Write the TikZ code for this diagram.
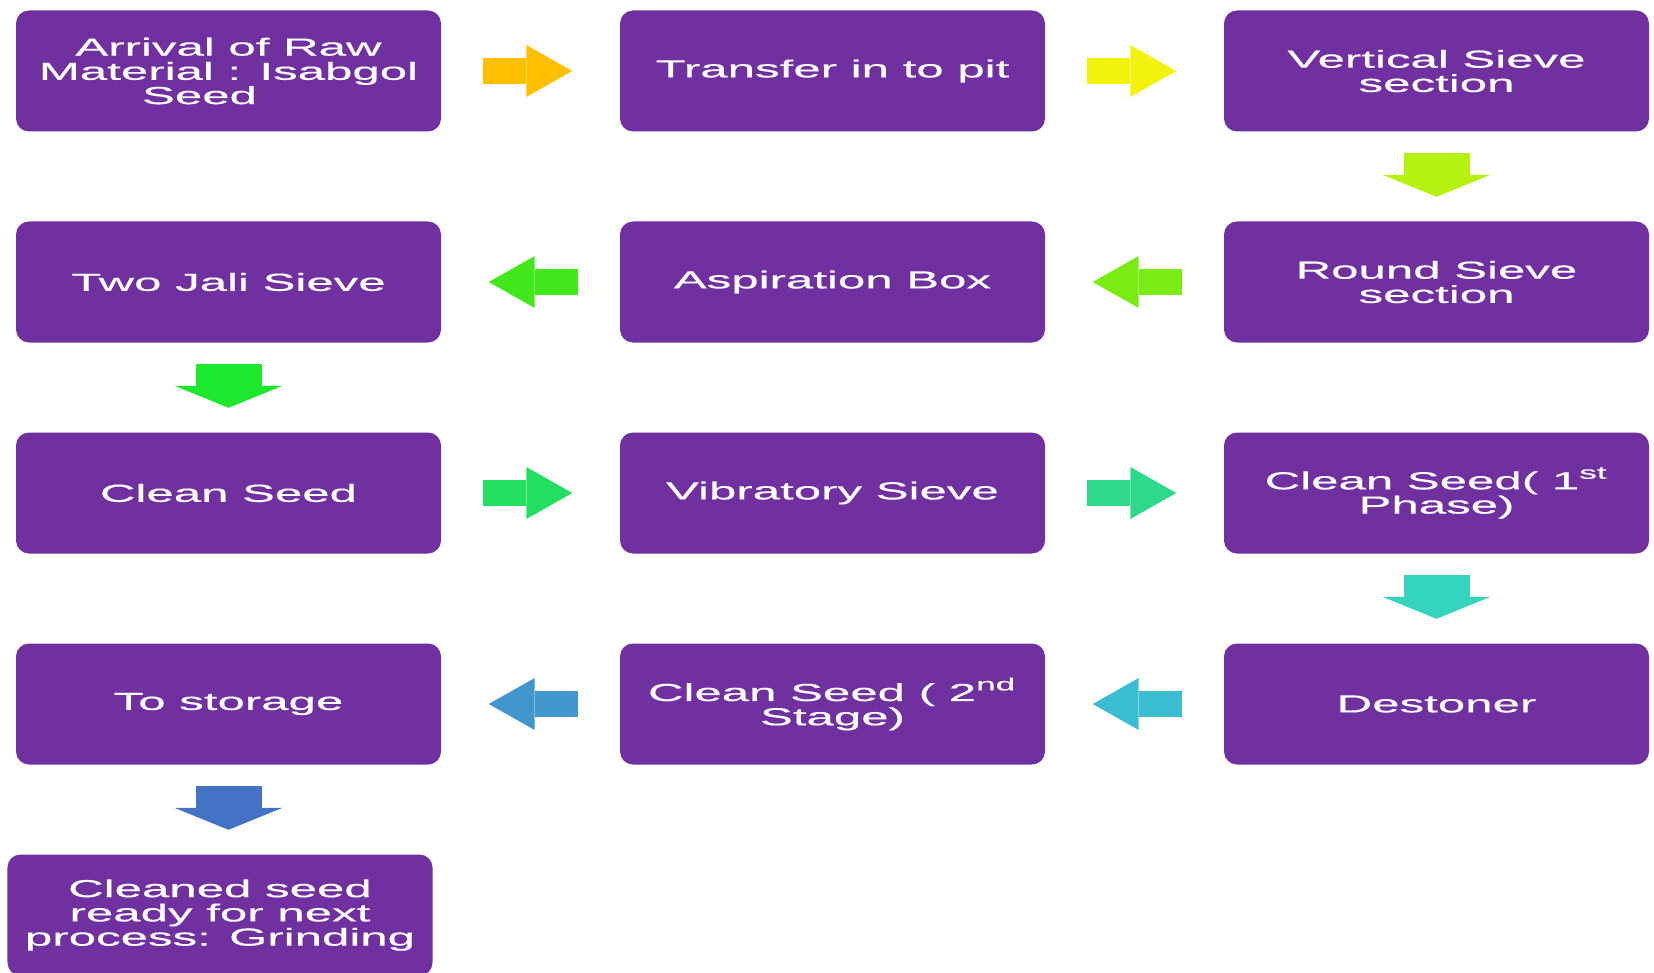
\documentclass[tikz,border=0pt]{standalone}
\usepackage{fontspec}
\newfontfamily\boxfont{Liberation Sans}[FakeStretch=2.0,FakeBold=0.4]
\usepackage{xcolor}
\definecolor{vizBox}{HTML}{7030A0}
\definecolor{flowA}{HTML}{FFC000}
\definecolor{flowB}{HTML}{F2F20C}
\definecolor{flowC}{HTML}{B5F20F}
\definecolor{flowD}{HTML}{7AEC14}
\definecolor{flowE}{HTML}{42E81C}
\definecolor{flowF}{HTML}{1EE82E}
\definecolor{flowG}{HTML}{22DF62}
\definecolor{flowH}{HTML}{2ED98A}
\definecolor{flowI}{HTML}{35D4BE}
\definecolor{flowJ}{HTML}{3ABDD0}
\definecolor{flowK}{HTML}{4196CC}
\definecolor{flowL}{HTML}{4472C4}
\usetikzlibrary{arrows.meta}
\tikzset{
  stepbox/.style={fill=vizBox, rounded corners=0.13cm, minimum width=4.25cm,
    minimum height=1.21cm, inner sep=0pt, text=white, align=center,
    font=\boxfont\fontsize{7.0pt}{6.9pt}\selectfont},
  hflow/.style={line width=0.26cm, draw=#1,
    -{Triangle[length=0.46cm, width=0.52cm, line width=0pt]},
    shorten <=0.41cm, shorten >=0.47cm},
  vflow/.style={line width=0.66cm, draw=#1,
    -{Triangle[length=0.22cm, width=1.08cm, line width=0pt]},
    shorten <=0.21cm, shorten >=0.24cm}
}

\begin{document}
\begin{tikzpicture}
  \useasboundingbox (0cm,0cm) rectangle (16.54cm,-9.73cm);
  % row 1
  \node[stepbox] (arrival) at (2.285cm,-0.71cm) {Arrival of Raw\\Material : Isabgol\\Seed\hspace*{0.58cm}};
  \node[stepbox] (pit) at (8.325cm,-0.71cm) {Transfer in to pit};
  \node[stepbox] (vsieve) at (14.365cm,-0.71cm) {Vertical Sieve\\section};
  % row 2
  \node[stepbox] (jali) at (2.285cm,-2.82cm) {Two Jali Sieve};
  \node[stepbox] (aspir) at (8.325cm,-2.82cm) {Aspiration Box};
  \node[stepbox] (rsieve) at (14.365cm,-2.82cm) {Round Sieve\\section};
  % row 3
  \node[stepbox] (clean) at (2.285cm,-4.93cm) {Clean Seed};
  \node[stepbox] (vibro) at (8.325cm,-4.93cm) {Vibratory Sieve};
  \node[stepbox] (phase) at (14.365cm,-4.93cm) {Clean Seed( 1\textsuperscript{st}\\Phase)};
  % row 4
  \node[stepbox] (storage) at (2.285cm,-7.04cm) {To storage};
  \node[stepbox] (stage) at (8.325cm,-7.04cm) {Clean Seed ( 2\textsuperscript{nd}\\Stage)};
  \node[stepbox] (destoner) at (14.365cm,-7.04cm) {Destoner};
  % last
  \node[stepbox] (grinding) at (2.2cm,-9.15cm) {Cleaned seed\\ready for next\\process: Grinding};

  \draw[hflow=flowA] (arrival) -- (pit);
  \draw[hflow=flowB] (pit) -- (vsieve);
  \draw[vflow=flowC] (vsieve) -- (rsieve);
  \draw[hflow=flowD] (rsieve) -- (aspir);
  \draw[hflow=flowE] (aspir) -- (jali);
  \draw[vflow=flowF] (jali) -- (clean);
  \draw[hflow=flowG] (clean) -- (vibro);
  \draw[hflow=flowH] (vibro) -- (phase);
  \draw[vflow=flowI] (phase) -- (destoner);
  \draw[hflow=flowJ] (destoner) -- (stage);
  \draw[hflow=flowK] (stage) -- (storage);
  \draw[vflow=flowL] (storage.south) -- (storage.south |- grinding.north);
\end{tikzpicture}
\end{document}
